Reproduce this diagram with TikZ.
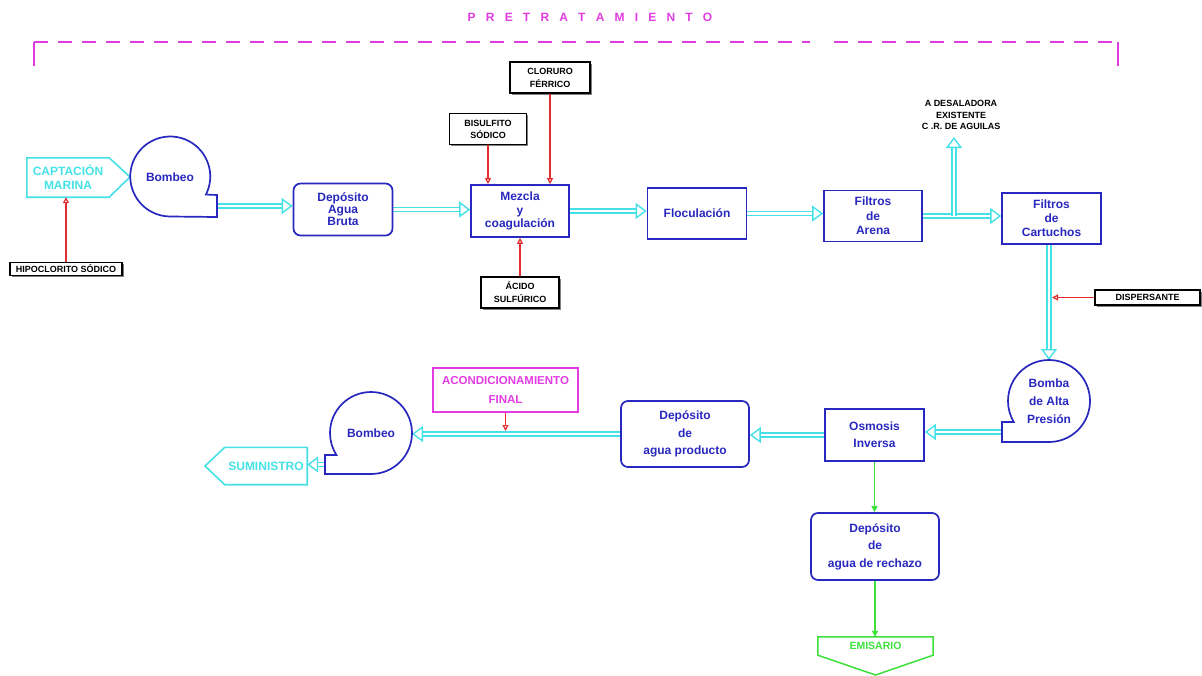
\documentclass[tikz,border=0pt]{standalone}
\usepackage{fontspec}
\setmainfont{Liberation Sans}
\usetikzlibrary{arrows.meta,decorations.markings,shadows,calc,backgrounds}
\definecolor{bxblue}{RGB}{40,40,190}
\definecolor{pipecol}{RGB}{70,225,230}
\definecolor{chemred}{RGB}{225,45,45}
\definecolor{rejgreen}{RGB}{60,225,60}
\definecolor{mgcol}{RGB}{225,60,225}
\newcommand{\lsgap}{\hskip 10.2pt}
\begin{document}
\begin{tikzpicture}[x=1pt,y=1pt,
  pbox/.style={draw=bxblue, line width=1.7pt, text=bxblue, align=center, inner sep=0pt,
    font=\bfseries\fontsize{12}{14}\selectfont},
  pline/.style={draw=bxblue, line width=1.7pt},
  pumpnode/.style={circle, inner sep=0pt, outer sep=0pt, text=bxblue, align=center,
    font=\bfseries\fontsize{12}{14}\selectfont},
  chem/.style={draw=black, line width=1.1pt, fill=white, align=center, inner sep=0pt,
    font=\bfseries\fontsize{9}{12}\selectfont,
    drop shadow={shadow xshift=1.8pt, shadow yshift=-1.8pt, fill=black!50, opacity=1}},
  cyanline/.style={draw=pipecol, line width=1.6pt},
  ctext/.style={inner sep=0pt, align=center, text=pipecol, font=\bfseries\fontsize{12}{14}\selectfont},
  pipe/.style={draw=pipecol, line width=1.4pt, double=white, double distance=2.8pt, shorten >=6pt,
    postaction={decorate, decoration={markings, mark=at position 1 with
      {\pgfsetinnerlinewidth{0pt}\arrow[pipecol, line width=1.4pt]{Triangle[fill=white, length=11pt, width=16pt]}}}}},
  dose/.style={draw=chemred, line width=1.2pt, -{Triangle[open, length=6pt, width=6pt]}},
  rej/.style={draw=rejgreen, line width=1.4pt, -{Triangle[length=6pt, width=6pt]}},
  bracket/.style={draw=mgcol, line width=1.6pt}
]
\useasboundingbox (0,0) rectangle (1202,-675);

% title and dashed bracket
\node[text=mgcol, font=\bfseries\fontsize{12}{14}\selectfont, inner sep=0pt] (pret) at (590,-17)
  {P\lsgap R\lsgap E\lsgap T\lsgap R\lsgap A\lsgap T\lsgap A\lsgap M\lsgap I\lsgap E\lsgap N\lsgap T\lsgap O};
\draw[bracket] (34,-66) -- (34,-42);
\draw[bracket] (1118,-42) -- (1118,-66);
\draw[bracket, dash pattern=on 14pt off 10pt] (34,-42) -- (810,-42);
\draw[bracket, dash pattern=on 14pt off 10pt] (834,-42) -- (1118,-42);

% intake
\node[ctext, minimum width=82pt, minimum height=39pt] (capt) at (68,-177.5) {CAPTACIÓN\\MARINA};
\draw[cyanline] (capt.north west) -- (capt.north east) -- (130,-177) -- (capt.south east) -- (capt.south west) -- cycle;
\node[chem, minimum width=112pt, minimum height=13pt] (hipo) at (66,-269) {HIPOCLORITO SÓDICO};

% pump 1
\node[pumpnode, minimum size=80pt] (bomb1) at (170,-177) {Bombeo};
\draw[pline] (bomb1.-26.8) arc[start angle=-26.8, end angle=270, radius=40pt] -- (217,-217) -- (217,-195) -- cycle;
\coordinate (b1out) at (217,-206);

% first row
\node[pbox, rounded corners=7pt, minimum width=99pt, minimum height=52pt,
  font=\bfseries\fontsize{12}{12}\selectfont] (dab) at (343,-209.5) {Depósito\\Agua\\Bruta};
\node[pbox, minimum width=98pt, minimum height=52pt,
  font=\bfseries\fontsize{12}{13.5}\selectfont] (mez) at (520,-211) {Mezcla\\y\\coagulación};
\node[pbox, minimum width=99pt, minimum height=51pt] (floc) at (697,-213.5) {Floculación};
\node[pbox, minimum width=98pt, minimum height=51pt,
  font=\bfseries\fontsize{12}{14.5}\selectfont] (arena) at (873,-216) {Filtros\\de\\Arena};
\node[pbox, minimum width=99pt, minimum height=51pt] (cart) at (1051.5,-218.5) {Filtros\\de\\Cartuchos};

% chemicals
\node[chem, minimum width=77pt, minimum height=31pt] (bis) at (488,-129) {BISULFITO\\SÓDICO};
\node[chem, minimum width=80pt, minimum height=31pt, font=\bfseries\fontsize{9}{13}\selectfont] (clo) at (550,-77.5) {CLORURO\\FÉRRICO};
\node[chem, minimum width=78pt, minimum height=31pt, font=\bfseries\fontsize{9}{13}\selectfont] (acid) at (520,-292.5) {ÁCIDO\\SULFÚRICO};
\node[chem, minimum width=105pt, minimum height=15pt] (disp) at (1147.5,-297.5) {DISPERSANTE};

\node[inner sep=0pt, align=center, font=\bfseries\fontsize{9}{11.5}\selectfont] (desaltxt) at (961,-115)
  {A DESALADORA\\EXISTENTE\\C .R. DE AGUILAS};
\coordinate (jn) at (954,-216);
\coordinate (desal) at (954,-137);

% second row
\node[pumpnode, minimum size=82pt, font=\bfseries\fontsize{12}{18}\selectfont] (bomb2) at (1049,-401) {Bomba\\de Alta\\Presión};
\draw[pline] (bomb2.south) arc[start angle=-90, end angle=210.8, radius=41pt] -- (1002,-422) -- (1002,-442) -- cycle;
\coordinate (b2out) at (1002,-432);

\node[pbox, minimum width=99pt, minimum height=52pt,
  font=\bfseries\fontsize{12}{17}\selectfont] (osm) at (874.5,-435) {Osmosis\\Inversa};
\node[pbox, rounded corners=7pt, minimum width=128pt, minimum height=66pt,
  font=\bfseries\fontsize{12}{17.5}\selectfont] (prod) at (685,-434) {Depósito\\de\\agua producto};
\node[pbox, rounded corners=7pt, minimum width=128pt, minimum height=67pt,
  font=\bfseries\fontsize{12}{17.5}\selectfont] (rech) at (875,-546.5) {Depósito\\de\\agua de rechazo};

\node[draw=mgcol, line width=1.5pt, text=mgcol, align=center, inner sep=0pt, minimum width=145pt, minimum height=44pt,
  font=\bfseries\fontsize{11.5}{19}\selectfont] (acond) at (505.5,-390) {ACONDICIONAMIENTO\\FINAL};
\coordinate (acondin) at (505.5,-431);

\node[pumpnode, minimum size=82pt] (bomb3) at (371,-433) {Bombeo};
\draw[pline] (bomb3.south) arc[start angle=-90, end angle=212.5, radius=41pt] -- (325,-455) -- (325,-474) -- cycle;
\coordinate (b3out) at (325,-464.5);

\node[ctext, minimum width=82pt, minimum height=37pt] (sum) at (266,-466) {SUMINISTRO};
\draw[cyanline] (sum.north east) -- (sum.north west) -- (205,-466) -- (sum.south west) -- (sum.south east) -- cycle;

\node[inner sep=0pt, text=rejgreen, minimum width=115pt, minimum height=18pt,
  font=\bfseries\fontsize{10.5}{12}\selectfont] (emis) at (875.5,-646) {EMISARIO};
\draw[draw=rejgreen, line width=1.5pt] (emis.north west) -- (emis.north east) -- (emis.south east) -- (875.5,-675) -- (emis.south west) -- cycle;

\coordinate (dispin) at (1052,-297.5);

% pipes (behind the boxes)
\begin{scope}[on background layer]
\draw[pipe] (b1out) -- (b1out -| dab.west);
\draw[pipe] (dab.east) -- (dab.east -| mez.west);
\draw[pipe] (mez.east) -- (mez.east -| floc.west);
\draw[pipe] (floc.east) -- (floc.east -| arena.west);
\draw[pipe] (arena.east) -- (arena.east -| cart.west);
\draw[pipe] (jn) -- (desal);
\draw[pipe] (bomb2.north |- cart.south) -- (bomb2.north);
\draw[pipe] (b2out) -- (b2out -| osm.east);
\draw[pipe] (osm.west) -- (osm.west -| prod.east);
\draw[pipe] (prod.west) -- (prod.west -| bomb3.east);
\draw[pipe] (b3out) -- (b3out -| sum.east);
\end{scope}

% dosing lines
\draw[dose] (hipo.north) -- (hipo.north |- capt.south);
\draw[dose] (bis.south) -- (bis.south |- mez.north);
\draw[dose] (clo.south) -- (clo.south |- mez.north);
\draw[dose] (acid.north) -- (acid.north |- mez.south);
\draw[dose] (disp.west) -- (dispin);
\draw[dose] (acond.south) -- (acondin);

% reject
\draw[rej] (osm.south) -- (osm.south |- rech.north);
\draw[rej] (rech.south) -- (rech.south |- emis.north);
\end{tikzpicture}
\end{document}
